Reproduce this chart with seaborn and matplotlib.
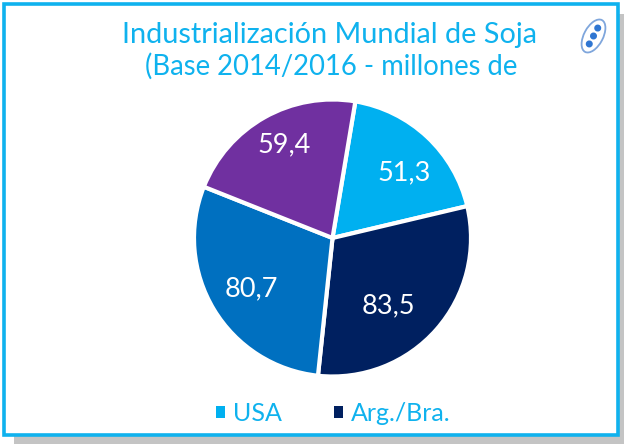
import numpy as np
import matplotlib.pyplot as plt
from matplotlib.patches import Rectangle, Ellipse
from matplotlib.transforms import Affine2D
import seaborn as sns

valores = [51.3, 83.5, 80.7, 59.4]
rotulos = ['51,3', '83,5', '80,7', '59,4']
legenda = ['USA', 'Arg./Bra.']
cores = ['#00B0F0', '#002060', '#0070C0', '#7030A0']
titulo_1 = 'Industrialización Mundial de Soja'
titulo_2 = '(Base 2014/2016 - millones de'

sns.set_theme(style='white')
plt.rcParams['font.family'] = ['Lato', 'DejaVu Sans']

W, H = 624, 444
fig = plt.figure(figsize=(W / 100, H / 100), dpi=100, facecolor='white')

# sombra e moldura
fig.add_artist(Rectangle((14 / W, 0), (W - 14) / W, 1 - 14 / H, transform=fig.transFigure,
                         fc='#c4c4c4', ec='none'))
fig.add_artist(Rectangle((3.5 / W, 1 - 435 / H), 614 / W, 431 / H, transform=fig.transFigure,
                         fc='white', ec='#0FB2EE', lw=2.6))

# pizza
R = 138.5
ax = fig.add_axes([(332.5 - R * 1.1) / W, 1 - (238 + R * 1.1) / H, 2 * R * 1.1 / W, 2 * R * 1.1 / H])
ax.set_zorder(5)
ax.patch.set_visible(False)
fatias, _ = ax.pie(valores, colors=cores, startangle=80.5, counterclock=False, radius=1,
                   wedgeprops={'edgecolor': 'white', 'linewidth': 3})
ax.set_xlim(-1.1, 1.1)
ax.set_ylim(-1.1, 1.1)

# rotulos dentro das fatias
dist = [0.70, 0.635, 0.69, 0.76]
ajuste = [-5, -9, 1, -2]
for f, r, d, a in zip(fatias, rotulos, dist, ajuste):
    ang = np.deg2rad((f.theta1 + f.theta2) / 2 + a)
    ax.text(d * np.cos(ang), d * np.sin(ang), r, color='white', fontsize=19.5,
            ha='center', va='center')

fig.text(330 / W, 1 - 43 / H, titulo_1, color='#0FB2EE', fontsize=20.8, ha='center', va='baseline')
fig.text(331.5 / W, 1 - 75 / H, titulo_2, color='#0FB2EE', fontsize=19.8, ha='center', va='baseline')

fig.legend(fatias[:2], legenda, ncol=2, loc='center', bbox_to_anchor=(333.5 / W, 1 - 413 / H),
           frameon=False, fontsize=18, labelcolor='#0FB2EE', handlelength=0.36, handleheight=0.36,
           handletextpad=0.32, columnspacing=2.1)
for h in fig.legends[0].legend_handles:
    h.set_linewidth(0)

# icone da vagem
t = Affine2D().rotate_deg_around(593.5, 36, -62).scale(1 / W, -1 / H).translate(0, 1) + fig.transFigure
fig.add_artist(Ellipse((593.5, 36), 36, 19, transform=t, fc='white', ec='#7FA6DC', lw=1.3))
for dx in (-9, 0, 9):
    fig.add_artist(Ellipse((593.5 + dx, 36), 7, 7, transform=t, fc='#2F76D2', ec='none'))

fig.savefig('out.png', dpi=100)
